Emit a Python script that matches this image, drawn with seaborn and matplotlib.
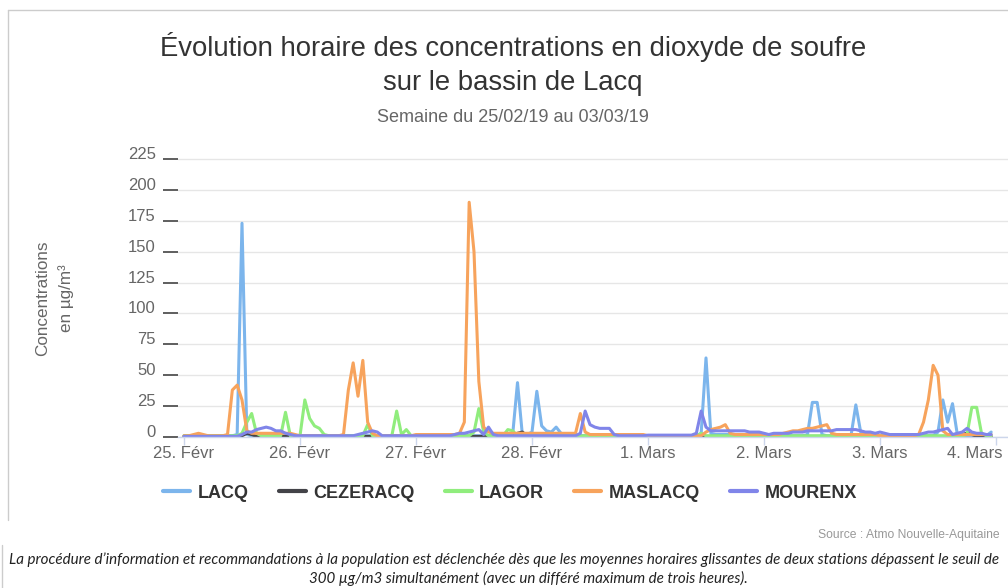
import numpy as np
import pandas as pd
import matplotlib
matplotlib.use("Agg")
import matplotlib.pyplot as plt
import seaborn as sns
from matplotlib.lines import Line2D
from matplotlib.transforms import ScaledTranslation

# ---------------- data (hourly, 25/02/19 00h -> 03/03/19 23h) ----------------
stations = ["LACQ", "CEZERACQ", "LAGOR", "MASLACQ", "MOURENX"]
colors = ["#7cb5ec", "#434348", "#90ed7d", "#f7a35c", "#8085e9"]
day_labels = ["25. Févr", "26. Févr", "27. Févr", "28. Févr",
              "1. Mars", "2. Mars", "3. Mars", "4. Mars"]
y_ticks = [0, 25, 50, 75, 100, 125, 150, 175, 200, 225]

lacq = [
    1, 1, 1, 1, 1, 1, 1, 1, 1, 1, 1, 2, 173, 2, 1, 1, 1, 1, 1, 1, 1, 1, 1, 1,
    1, 1, 1, 1, 1, 1, 1, 1, 1, 1, 1, 1, 1, 1, 1, 1, 1, 1, 1, 1, 1, 1, 1, 1,
    1, 1, 1, 1, 1, 1, 1, 1, 1, 1, 1, 1, 1, 1, 1, 1, 1, 1, 1, 1, 2, 44, 2, 2,
    4, 37, 9, 5, 4, 8, 3, 1, 1, 1, 1, 1, 1, 1, 1, 1, 1, 1, 1, 1, 1, 1, 1, 1,
    1, 1, 1, 1, 1, 1, 1, 1, 1, 1, 1, 3, 64, 3, 2, 2, 2, 2, 2, 2, 2, 2, 2, 2,
    1, 1, 1, 1, 1, 1, 1, 1, 1, 2, 28, 28, 2, 1, 1, 1, 1, 1, 1, 26, 4, 1, 1, 1,
    1, 1, 1, 1, 1, 1, 1, 1, 1, 1, 1, 1, 4, 30, 12, 27, 2, 1, 1, 1, 1, 1, 1, 4,
]
cezeracq = [
    .5, .5, .5, .5, .5, .5, .5, .5, .5, .5, .5, .5, 1, 3, 2, .5, .5, .5, .5, .5, .5, .5, .5, .5,
    .5, .5, .5, .5, .5, .5, .5, .5, .5, .5, .5, .5, .5, .5, .5, .5, .5, .5, .5, .5, .5, .5, .5, .5,
    .5, .5, .5, .5, .5, .5, .5, .5, .5, .5, .5, .5, .5, .5, .5, .5, .5, .5, .5, .5, .5, 3, 4, 1,
    .5, .5, .5, .5, .5, .5, .5, .5, .5, .5, .5, .5, .5, .5, .5, .5, .5, .5, .5, .5, .5, .5, .5, .5,
    .5, .5, .5, .5, .5, .5, .5, .5, .5, .5, .5, 1, .5, .5, .5, .5, .5, .5, .5, .5, .5, .5, .5, .5,
    .5, .5, .5, .5, .5, .5, .5, .5, .5, .5, .5, .5, .5, .5, .5, .5, .5, .5, .5, .5, .5, .5, .5, .5,
    .5, .5, .5, .5, .5, .5, .5, .5, .5, .5, .5, .5, .5, .5, .5, .5, .5, 2, 3, 2, .5, .5, .5, .5,
]
lagor = [
    1, 1, 1, 1, 1, 1, 1, 1, 1, 1, 1, 1, 3, 12, 19, 3, 1, 1, 1, 1, 1, 20, 1, 1,
    1, 30, 15, 9, 7, 2, 1, 1, 1, 1, 1, 1, 1, 1, 10, 1, 1, 1, 1, 1, 21, 2, 6, 1,
    1, 1, 1, 1, 1, 1, 1, 1, 1, 1, 1, 1, 4, 23, 4, 1, 1, 1, 1, 6, 5, 1, 1, 1,
    1, 1, 1, 1, 1, 1, 1, 1, 1, 1, 1, 1, 1, 1, 1, 1, 1, 1, 1, 1, 1, 1, 1, 1,
    1, 1, 1, 1, 1, 1, 1, 1, 1, 1, 1, 3, 1, 1, 1, 1, 1, 1, 1, 1, 1, 1, 1, 1,
    1, 1, 1, 1, 1, 1, 1, 1, 1, 1, 1, 1, 1, 1, 1, 1, 1, 1, 1, 1, 1, 1, 1, 1,
    1, 1, 1, 1, 1, 1, 1, 1, 1, 1, 1, 1, 1, 1, 1, 1, 1, 1, 2, 24, 24, 3, 1, 1,
]
maslacq = [
    1, 1, 2, 3, 2, 1, 1, 1, 1, 2, 38, 42, 30, 5, 3, 3, 3, 3, 3, 3, 3, 3, 3, 2,
    1, 1, 1, 1, 1, 1, 1, 1, 1, 2, 38, 60, 33, 62, 12, 3, 1, 1, 1, 1, 1, 1, 1, 1,
    2, 2, 2, 2, 2, 2, 2, 2, 2, 3, 12, 190, 150, 45, 8, 4, 3, 3, 3, 3, 3, 3, 3, 3,
    3, 3, 3, 3, 3, 3, 3, 3, 3, 3, 19, 4, 2, 2, 2, 2, 2, 2, 2, 2, 2, 2, 2, 2,
    1, 1, 1, 1, 1, 1, 1, 1, 1, 1, 1, 1, 4, 6, 7, 8, 10, 3, 2, 2, 2, 2, 2, 2,
    2, 2, 2, 2, 3, 4, 5, 5, 6, 7, 7, 8, 9, 10, 3, 2, 2, 2, 2, 2, 2, 2, 2, 2,
    1, 1, 1, 1, 1, 1, 1, 1, 2, 12, 30, 58, 50, 5, 2, 2, 2, 2, 2, 2, 2, 2, 2, 2,
]
mourenx = [
    .5, .5, .5, .5, .5, .5, .5, .5, .5, .5, .5, .5, 2, 4, 4, 6, 7, 8, 7, 5, 5, 3, 2, 1,
    1, 1, 1, 1, 1, 1, 1, 1, 1, 1, 1, 1, 2, 3, 4, 5, 4, 1, 1, 1, 1, 1, 1, 1,
    1, 1, 1, 1, 1, 1, 1, 1, 2, 3, 3, 4, 5, 6, 2, 8, 2, 1, 1, 1, 1, 1, 1, 1,
    1, 1, 1, 1, 1, 1, 1, 1, 1, 1, 3, 21, 10, 8, 7, 7, 7, 2, 1, 1, 1, 1, 1, 1,
    1.5, 1.5, 1.5, 1.5, 1.5, 1.5, 1.5, 1.5, 1.5, 1.5, 3, 21, 8, 5, 5, 5, 5, 5, 5, 5, 5, 4, 4, 4,
    3, 2, 3, 3, 3, 3, 4, 4, 4, 5, 5, 5, 5, 5, 5, 6, 6, 6, 6, 6, 5, 4, 4, 3,
    4, 3, 2, 2, 2, 2, 2, 2, 2, 3, 4, 4, 5, 6, 7, 2, 3, 4, 7, 4, 3, 3, 2, 2,
]

series = [lacq, cezeracq, lagor, maslacq, mourenx]
hours = np.arange(len(lacq))
df = pd.concat(
    [pd.DataFrame({"hour": hours, "value": vals, "station": name})
     for name, vals in zip(stations, series)],
    ignore_index=True,
)

# ---------------- figure ----------------
W, H = 1008, 588
sns.set_theme(style="white")
plt.rcParams["font.family"] = ["Liberation Sans", "DejaVu Sans"]

fig = plt.figure(figsize=(W / 100, H / 100), dpi=100)
fig.patch.set_facecolor("white")

# plot area in pixels
px_left, px_right = 178, 1008
px_zero, px_per_unit = 437, (437 - 159) / 225
y_top_val = 230
px_top = px_zero - y_top_val * px_per_unit
px_per_hour = (996 - 184) / 168
x0 = -(184 - px_left) / px_per_hour
x1 = x0 + (px_right - px_left) / px_per_hour

ax = fig.add_axes([px_left / W, 1 - px_zero / H,
                   (px_right - px_left) / W, (px_zero - px_top) / H])

sns.lineplot(data=df, x="hour", y="value", hue="station", hue_order=stations,
             palette=dict(zip(stations, colors)), linewidth=2.2,
             estimator=None, legend=False, ax=ax)
for ln in ax.lines:
    ln.set_solid_joinstyle("round")
    ln.set_solid_capstyle("round")

ax.set_xlim(x0, x1)
ax.set_ylim(0, y_top_val)
ax.set_xlabel("")
ax.set_ylabel("")

ax.set_yticks(y_ticks)
ax.set_yticklabels([str(v) for v in y_ticks])
ax.set_xticks([24 * i for i in range(len(day_labels))])
ax.set_xticklabels(day_labels)

ax.yaxis.grid(True, color="#e6e6e6", linewidth=1)
ax.xaxis.grid(False)
for s in ["left", "top", "right"]:
    ax.spines[s].set_visible(False)
ax.spines["bottom"].set_color("#ccd6eb")
ax.spines["bottom"].set_linewidth(1)

ax.tick_params(axis="y", left=True, length=11, width=1.1, color="#333333",
               pad=5, labelsize=12, labelcolor="#666666")
ax.tick_params(axis="x", bottom=True, length=6, width=1, color="#ccd6eb",
               pad=0.5, labelsize=12, labelcolor="#666666")

for lbl in ax.get_yticklabels():
    lbl.set_transform(lbl.get_transform() + ScaledTranslation(0, 0.06, fig.dpi_scale_trans))
last = ax.get_xticklabels()[-1]
last.set_transform(last.get_transform() + ScaledTranslation(-0.21, 0, fig.dpi_scale_trans))

# ---------------- texts ----------------
renderer = fig.canvas.get_renderer()


def fit(txt, target_px):
    w = txt.get_window_extent(renderer).width
    txt.set_fontsize(txt.get_fontsize() * target_px / w)
    return txt


fit(fig.text(513 / W, 1 - 47 / H,
             "Évolution horaire des concentrations en dioxyde de soufre",
             ha="center", va="center", fontsize=20, color="#333333"), 707)
fit(fig.text(513 / W, 1 - 83 / H, "sur le bassin de Lacq",
             ha="center", va="center", fontsize=20, color="#333333"), 259)
fit(fig.text(513 / W, 1 - 118 / H, "Semaine du 25/02/19 au 03/03/19",
             ha="center", va="center", fontsize=13, color="#666666"), 272)

fig.text(43 / W, 1 - 298 / H, "Concentrations", rotation=90, ha="center",
         va="center", fontsize=12.3, color="#666666")
fig.text(66 / W, 1 - 298 / H, "en µg/m³", rotation=90, ha="center",
         va="center", fontsize=12.3, color="#666666")

handles = [Line2D([], [], color=c, lw=3, solid_capstyle="round") for c in colors]
fig.legend(handles, stations, loc="center", bbox_to_anchor=(510 / W, 1 - 493 / H),
           ncol=5, frameon=False,
           prop={"family": "Liberation Sans", "weight": "bold", "size": 13},
           labelcolor="#333333", handlelength=1.5, handletextpad=0.4,
           columnspacing=1.67)

fit(fig.text(1000 / W, 1 - 535 / H, "Source : Atmo Nouvelle-Aquitaine",
             ha="right", va="center", fontsize=8.5, color="#999999"), 182)

foot1 = fig.text(504 / W, 1 - 560 / H,
                 "La procédure d’information et recommandations à la population est "
                 "déclenchée dès que les moyennes horaires glissantes de deux stations "
                 "dépassent le seuil de",
                 ha="center", va="center", fontsize=10.5, style="italic",
                 family=["Lato", "DejaVu Sans"], color="#222222")
fit(foot1, 996)
fig.text(528 / W, 1 - 578 / H,
         "300 µg/m3 simultanément (avec un différé maximum de trois heures).",
         ha="center", va="center", fontsize=foot1.get_fontsize(), style="italic",
         family=["Lato", "DejaVu Sans"], color="#222222")

# frame lines
fig.add_artist(Line2D([8 / W, 8 / W], [1 - 10 / H, 1 - 520 / H],
                      color="#cccccc", lw=1, transform=fig.transFigure))
fig.add_artist(Line2D([8 / W, 1], [1 - 10 / H, 1 - 10 / H],
                      color="#cccccc", lw=1, transform=fig.transFigure))
fig.add_artist(Line2D([1.5 / W, 1.5 / W], [1 - 545 / H, 0],
                      color="#cccccc", lw=1, transform=fig.transFigure))

fig.savefig("out.png", dpi=100, facecolor="white")
